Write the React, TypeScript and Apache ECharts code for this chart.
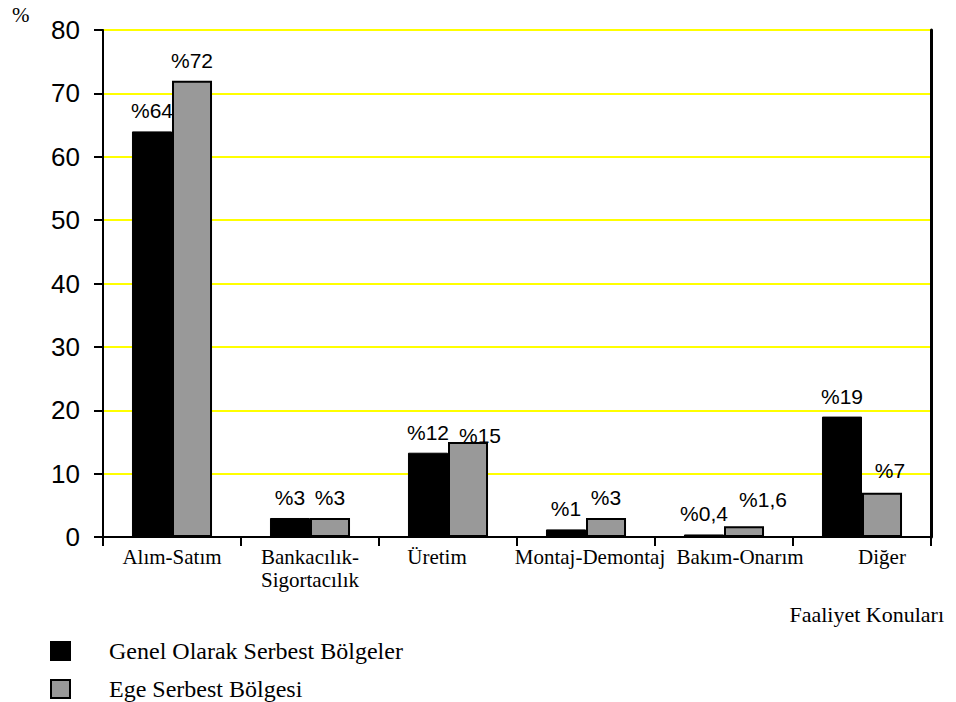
import React, { useEffect, useRef } from "react";
import * as echarts from "echarts";

const categories = ["Alım-Satım", "Bankacılık-\nSigortacılık", "Üretim", "Montaj-Demontaj", "Bakım-Onarım", "Diğer"];
const seriesNames = ["Genel Olarak Serbest Bölgeler", "Ege Serbest Bölgesi"];
const genelValues = [64, 3, 13.3, 1.2, 0.4, 19];
const egeValues = [72, 3, 15, 3, 1.7, 7];
const genelLabels = ["%64", "%3", "%12", "%1", "%0,4", "%19"];
const egeLabels = ["%72", "%3", "%15", "%3", "%1,6", "%7"];
const yTicks = [0, 10, 20, 30, 40, 50, 60, 70, 80];

const SERIF = "'Liberation Serif', 'Times New Roman', serif";
const SANS = "'Liberation Sans', Arial, sans-serif";

export default function App() {
  const ref = useRef<HTMLDivElement>(null);
  useEffect(() => {
    if (!ref.current) return;
    const chart = echarts.init(ref.current, undefined, { renderer: "svg" });
    const egeOffsets: Record<number, number[]> = { 2: [12, 14], 4: [19, -6], 5: [8, -2] };
    // horizontal nudges of category labels (px), as in the reference layout
    const catShift = [0, 0, -11, 4, 16, 20];
    const mk = (vals: number[], labels: string[], offsets: Record<number, number[]>) =>
      vals.map((v, i) => ({
        value: v,
        label: { formatter: labels[i], offset: offsets[i] || [0, 0] },
      }));
    const catData = categories.map((c, i) => {
      const s = catShift[i];
      return {
        value: c,
        textStyle: { padding: s >= 0 ? [0, 0, 0, 2 * s] : [0, -2 * s, 0, 0] },
      };
    });
    const legendBase = {
      orient: "vertical",
      left: 50,
      padding: 0,
      itemWidth: 19,
      itemHeight: 18,
      icon: "rect",
      textStyle: { fontFamily: SERIF, fontSize: 24, color: "#000", padding: [0, 0, 12, 34], lineHeight: 26 },
    };
    chart.setOption({
      animation: false,
      backgroundColor: "#ffffff",
      grid: { left: 103, right: 25, top: 30, bottom: 165, containLabel: false },
      legend: [
        { ...legendBase, top: 632, data: [seriesNames[0]] },
        { ...legendBase, top: 670, data: [seriesNames[1]] },
      ],
      graphic: [
        { type: "text", left: 12, top: 4, style: { text: "%", font: `21px ${SERIF}`, fill: "#000" } },
        { type: "text", right: 12, top: 603, style: { text: "Faaliyet Konuları", font: `22px ${SERIF}`, fill: "#000" } },
      ],
      xAxis: [
        {
          type: "category",
          data: catData,
          position: "bottom",
          axisLine: { lineStyle: { color: "#000", width: 2 } },
          axisTick: { show: true, alignWithLabel: false, length: 9, lineStyle: { color: "#000", width: 2 } },
          axisLabel: { fontFamily: SERIF, fontSize: 21, color: "#000", margin: 8, lineHeight: 23, interval: 0 },
        },
        {
          type: "category",
          data: categories,
          position: "top",
          axisLine: { lineStyle: { color: "#000", width: 2 } },
          axisTick: { show: false },
          axisLabel: { show: false },
        },
      ],
      yAxis: [
        {
          type: "value",
          min: 0,
          max: 80,
          interval: 10,
          axisLine: { show: true, lineStyle: { color: "#000", width: 2 } },
          axisTick: { show: true, length: 9, lineStyle: { color: "#000", width: 2 } },
          axisLabel: {
            fontFamily: SANS,
            fontSize: 26,
            color: "#000",
            margin: 23,
            formatter: (v: number) => (yTicks.includes(v) ? String(v) : ""),
          },
          splitLine: { show: true, lineStyle: { color: "#ffff00", width: 2 } },
        },
        {
          type: "value",
          min: 0,
          max: 80,
          interval: 10,
          position: "right",
          axisLine: { show: true, lineStyle: { color: "#000", width: 3 } },
          axisTick: { show: false },
          axisLabel: { show: false },
          splitLine: { show: false },
        },
      ],
      series: [
        {
          name: seriesNames[0],
          type: "bar",
          barGap: "0%",
          barCategoryGap: "42%",
          itemStyle: { color: "#000000", borderColor: "#000", borderWidth: 1 },
          label: { show: true, position: "top", distance: 10, fontFamily: SANS, fontSize: 21, color: "#000" },
          data: mk(genelValues, genelLabels, {}),
        },
        {
          name: seriesNames[1],
          type: "bar",
          barGap: "0%",
          barCategoryGap: "42%",
          itemStyle: { color: "#999999", borderColor: "#000", borderWidth: 2 },
          label: { show: true, position: "top", distance: 10, fontFamily: SANS, fontSize: 21, color: "#000" },
          data: mk(egeValues, egeLabels, egeOffsets),
        },
      ],
    });
    return () => chart.dispose();
  }, []);
  return <div ref={ref} style={{ position: "fixed", left: 0, top: 0, width: 956, height: 702 }} />;
}
